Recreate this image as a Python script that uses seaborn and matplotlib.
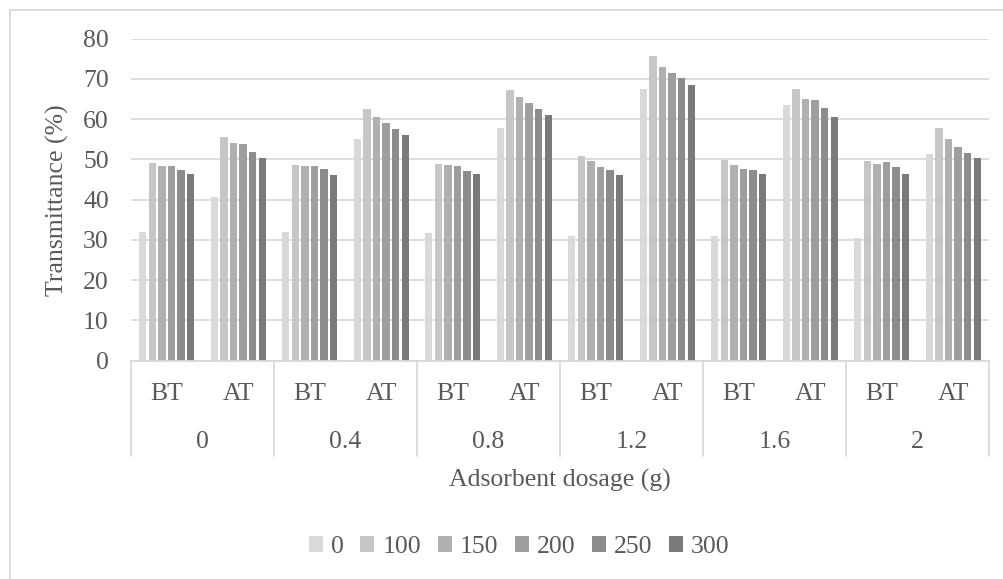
import matplotlib
matplotlib.use("Agg")
import matplotlib.pyplot as plt
import seaborn as sns
import pandas as pd
from matplotlib.lines import Line2D
from matplotlib.patches import Patch

dosages = ["0", "0.4", "0.8", "1.2", "1.6", "2"]
stages = ["BT", "AT"]
series = ["0", "100", "150", "200", "250", "300"]

# values per series, order: (0,BT),(0,AT),(0.4,BT),(0.4,AT),...
s0   = [32.0, 40.7, 31.9, 55.2, 31.7, 57.9, 31.0, 67.5, 30.9, 63.6, 30.6, 51.4]
s100 = [49.0, 55.6, 48.7, 62.5, 48.9, 67.2, 50.8, 75.6, 49.9, 67.5, 49.7, 57.8]
s150 = [48.4, 54.1, 48.4, 60.6, 48.5, 65.5, 49.6, 73.0, 48.7, 65.1, 48.9, 55.2]
s200 = [48.3, 53.8, 48.3, 59.1, 48.3, 64.0, 48.1, 71.6, 47.6, 64.8, 49.4, 53.0]
s250 = [47.5, 51.8, 47.6, 57.5, 47.1, 62.5, 47.5, 70.2, 47.4, 62.9, 48.1, 51.6]
s300 = [46.3, 50.4, 46.1, 56.0, 46.5, 61.0, 46.1, 68.4, 46.3, 60.6, 46.3, 50.4]

colors = ["#d9d9d9", "#c6c6c6", "#b0b0b0", "#9e9e9e", "#8c8c8c", "#7a7a7a"]

cats = [f"{d}|{s}" for d in dosages for s in stages]
all_vals = [s0, s100, s150, s200, s250, s300]
rows = []
for sname, vals in zip(series, all_vals):
    for c, v in zip(cats, vals):
        rows.append({"cat": c, "series": sname, "value": v})
df = pd.DataFrame(rows)

sns.set_theme(style="white")
plt.rcParams["font.family"] = ["Liberation Serif", "DejaVu Serif"]
txt = "#595959"
fs = 18.5

fig = plt.figure(figsize=(10.04, 5.79), dpi=100)
ax = fig.add_axes([131/1004, 1-360.7/579, (989-131)/1004, (360.7-38.7)/579])

sns.barplot(data=df, x="cat", y="value", hue="series", order=cats,
            hue_order=series, palette=colors, width=0.8, gap=0.25,
            saturation=1, linewidth=0, legend=False, ax=ax)

ax.set_ylim(0, 80)
ax.set_xlim(-0.5, len(cats) - 0.5)
ax.set_yticks(range(0, 81, 10))
ax.yaxis.grid(True, color="#d9d9d9", linewidth=1.3)
ax.set_axisbelow(True)
for sp in ["top", "right", "left"]:
    ax.spines[sp].set_visible(False)
ax.spines["bottom"].set_color("#d9d9d9")
ax.spines["bottom"].set_linewidth(1.3)
ax.tick_params(axis="y", length=0, labelsize=fs, labelcolor=txt, pad=16)
ax.set_xticks(range(len(cats)))
ax.set_xticklabels([])
ax.tick_params(axis="x", length=0)
ax.set_xlabel("")
ax.set_ylabel("Transmittance (%)", fontsize=fs, color=txt, labelpad=10)

tr = ax.get_xaxis_transform()
for i, c in enumerate(cats):
    ax.text(i, -0.103, c.split("|")[1], transform=tr, ha="center", va="center",
            fontsize=fs, color=txt)
for i in range(len(dosages) + 1):
    x = -0.5 + 2 * i
    ax.add_line(Line2D([x, x], [0, -0.296], transform=tr, color="#d9d9d9",
                       linewidth=1.3, clip_on=False))
for i, d in enumerate(dosages):
    ax.text(2 * i + 0.5, -0.252, d, transform=tr, ha="center", va="center",
            fontsize=fs, color=txt)
ax.text(0.5, -0.372, "Adsorbent dosage (g)", transform=ax.transAxes,
        ha="center", va="center", fontsize=fs, color=txt)

handles = [Patch(facecolor=c, edgecolor="none") for c in colors]
fig.legend(handles, series, loc="center", bbox_to_anchor=(0.517, 1-547/579),
           ncol=6, frameon=False, fontsize=fs, handlelength=0.55,
           handleheight=0.55, handletextpad=0.3, columnspacing=0.65,
           labelcolor=txt)

# chart border (left and top visible)
fig.add_artist(Line2D([10/1004, 10/1004], [0, 1-10/579], transform=fig.transFigure,
                      color="#d9d9d9", linewidth=1.3))
fig.add_artist(Line2D([10/1004, 1], [1-10/579, 1-10/579], transform=fig.transFigure,
                      color="#d9d9d9", linewidth=1.3))

fig.savefig("out.png", dpi=100)
